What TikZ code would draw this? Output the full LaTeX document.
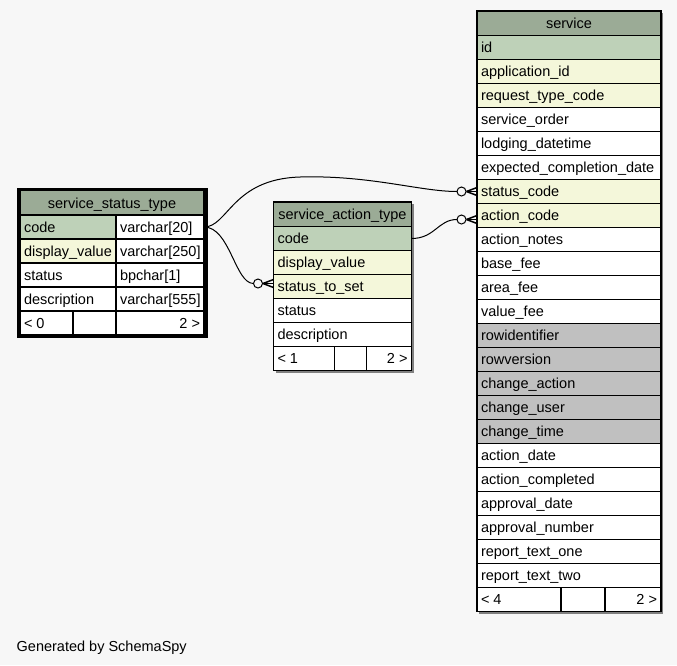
\documentclass[tikz,border=0pt]{standalone}
\usepackage{fontspec}
\setmainfont{Liberation Sans}
\usetikzlibrary{calc}

\definecolor{pagebg}{RGB}{247,247,247}
\definecolor{headbg}{RGB}{155,171,150}
\definecolor{pkbg}{RGB}{190,209,184}
\definecolor{idxbg}{RGB}{244,247,218}
\definecolor{exbg}{RGB}{192,192,192}
\definecolor{shadowc}{RGB}{128,128,128}

\tikzset{
  cell/.style={draw=black, line width=1.6pt, anchor=north west,
    inner xsep=4pt, inner ysep=0pt, outer sep=0pt, minimum height=24pt,
    text height=12pt, text depth=1.5pt, font=\fontsize{14.5}{16}\selectfont},
  link/.style={draw=black, line width=1pt},
  crowline/.style={draw=black, line width=1.5pt},
  ring/.style={draw=black, line width=1pt, fill=pagebg},
  tshadow/.style={fill=shadowc, draw=none},
}

% \tcell{name}{x}{top y}{width}{fill}{l/c/r}{text}
\newcommand\tcell[7]{%
  \node[cell, fill=#5, minimum width=#4pt] (#1) at (#2pt,-#3pt)
    {\makebox[\dimexpr#4pt-8pt\relax][#6]{#7}};}
% header cell, slightly taller
\newcommand\hcell[5]{%
  \node[cell, fill=headbg, minimum width=#4pt, minimum height=24.5pt] (#1) at (#2pt,-#3pt)
    {\makebox[\dimexpr#4pt-8pt\relax][c]{#5}};}
% crow's foot with optional ring, ending on the point #1
\newcommand\crowodot[1]{%
  \draw[crowline] ($(#1)+(-10.5,0)$) -- ($(#1)+(0,4)$);
  \draw[crowline] ($(#1)+(-10.5,0)$) -- (#1);
  \draw[crowline] ($(#1)+(-10.5,0)$) -- ($(#1)+(0,-4)$);
  \draw[ring] ($(#1)+(-15.5,0)$) circle[radius=4.5];}

\begin{document}
\begin{tikzpicture}[x=1pt,y=1pt]
\fill[pagebg] (0,0) rectangle (677,-665);
\useasboundingbox (0,0) rectangle (677,-665);

% drop shadows
\fill[tshadow] (479,-13) rectangle (663,-613.5);
\fill[tshadow] (275.5,-204) rectangle (413.5,-372.5);

% table: service
\hcell{svc-head}{477}{11}{184}{service}
\tcell{svc-id}{477}{35.5}{184}{pkbg}{l}{id}
\tcell{svc-application_id}{477}{59.5}{184}{idxbg}{l}{application\_id}
\tcell{svc-request_type_code}{477}{83.5}{184}{idxbg}{l}{request\_type\_code}
\tcell{svc-service_order}{477}{107.5}{184}{white}{l}{service\_order}
\tcell{svc-lodging_datetime}{477}{131.5}{184}{white}{l}{lodging\_datetime}
\tcell{svc-expected_completion_date}{477}{155.5}{184}{white}{l}{expected\_completion\_date}
\tcell{svc-status_code}{477}{179.5}{184}{idxbg}{l}{status\_code}
\tcell{svc-action_code}{477}{203.5}{184}{idxbg}{l}{action\_code}
\tcell{svc-action_notes}{477}{227.5}{184}{white}{l}{action\_notes}
\tcell{svc-base_fee}{477}{251.5}{184}{white}{l}{base\_fee}
\tcell{svc-area_fee}{477}{275.5}{184}{white}{l}{area\_fee}
\tcell{svc-value_fee}{477}{299.5}{184}{white}{l}{value\_fee}
\tcell{svc-rowidentifier}{477}{323.5}{184}{exbg}{l}{rowidentifier}
\tcell{svc-rowversion}{477}{347.5}{184}{exbg}{l}{rowversion}
\tcell{svc-change_action}{477}{371.5}{184}{exbg}{l}{change\_action}
\tcell{svc-change_user}{477}{395.5}{184}{exbg}{l}{change\_user}
\tcell{svc-change_time}{477}{419.5}{184}{exbg}{l}{change\_time}
\tcell{svc-action_date}{477}{443.5}{184}{white}{l}{action\_date}
\tcell{svc-action_completed}{477}{467.5}{184}{white}{l}{action\_completed}
\tcell{svc-approval_date}{477}{491.5}{184}{white}{l}{approval\_date}
\tcell{svc-approval_number}{477}{515.5}{184}{white}{l}{approval\_number}
\tcell{svc-report_text_one}{477}{539.5}{184}{white}{l}{report\_text\_one}
\tcell{svc-report_text_two}{477}{563.5}{184}{white}{l}{report\_text\_two}
\tcell{svc-foot-parents}{477}{587.5}{84}{white}{l}{< 4}
\tcell{svc-foot-mid}{561}{587.5}{44}{white}{l}{}
\tcell{svc-foot-children}{605}{587.5}{56}{white}{r}{2 >}

% table: service_action_type
\hcell{sat-head}{273.5}{202}{138}{service\_action\_type}
\tcell{sat-code}{273.5}{226.5}{138}{pkbg}{l}{code}
\tcell{sat-display_value}{273.5}{250.5}{138}{idxbg}{l}{display\_value}
\tcell{sat-status_to_set}{273.5}{274.5}{138}{idxbg}{l}{status\_to\_set}
\tcell{sat-status}{273.5}{298.5}{138}{white}{l}{status}
\tcell{sat-description}{273.5}{322.5}{138}{white}{l}{description}
\tcell{sat-foot-parents}{273.5}{346.5}{61}{white}{l}{< 1}
\tcell{sat-foot-mid}{334.5}{346.5}{32}{white}{l}{}
\tcell{sat-foot-children}{366.5}{346.5}{45}{white}{r}{2 >}

% table: service_status_type (focus table, heavy frame)
\hcell{sst-head}{20}{190.5}{184}{service\_status\_type}
\tcell{sst-code}{20}{215}{96}{pkbg}{l}{code}
\tcell{sst-code-type}{116}{215}{88}{white}{l}{varchar[20]}
\tcell{sst-display_value}{20}{239}{96}{idxbg}{l}{display\_value}
\tcell{sst-display_value-type}{116}{239}{88}{white}{l}{varchar[250]}
\tcell{sst-status}{20}{263}{96}{white}{l}{status}
\tcell{sst-status-type}{116}{263}{88}{white}{l}{bpchar[1]}
\tcell{sst-description}{20}{287}{96}{white}{l}{description}
\tcell{sst-description-type}{116}{287}{88}{white}{l}{varchar[555]}
\tcell{sst-foot-parents}{20}{311}{53}{white}{l}{< 0}
\tcell{sst-foot-mid}{73}{311}{43}{white}{l}{}
\tcell{sst-foot-children}{116}{311}{88}{white}{r}{2 >}
\draw[black, line width=3pt] (sst-head.north west) ++(-1.5,1.5) rectangle ($(sst-foot-children.south east)+(2,-1.5)$);

% relationship end points
\coordinate (t1) at (svc-status_code.west);
\coordinate (t2) at ($(sat-status_to_set.west)+(0,3)$);
\coordinate (t3) at ($(svc-action_code.west)+(0,-4)$);

% service_status_type.code -> service.status_code
\draw[link] (sst-code-type.east) .. controls (228,-227) and (232,-179) .. (300,-177)
  .. controls (370,-175) and (420,-191.5) .. ($(t1)+(-20,0)$);
\crowodot{t1}
% service_status_type.code -> service_action_type.status_to_set
\draw[link] (sst-code-type.east) .. controls (230,-227) and (235,-283.5) .. ($(t2)+(-20,0)$);
\crowodot{t2}
% service_action_type.code -> service.action_code
\draw[link] (sat-code.east) .. controls (435,-238.5) and (438,-219.5) .. ($(t3)+(-20,0)$);
\crowodot{t3}

\node[anchor=base west, inner sep=0pt, font=\fontsize{14.5}{16}\selectfont] (credit) at (16.5,-651) {Generated by SchemaSpy};
\end{tikzpicture}
\end{document}
